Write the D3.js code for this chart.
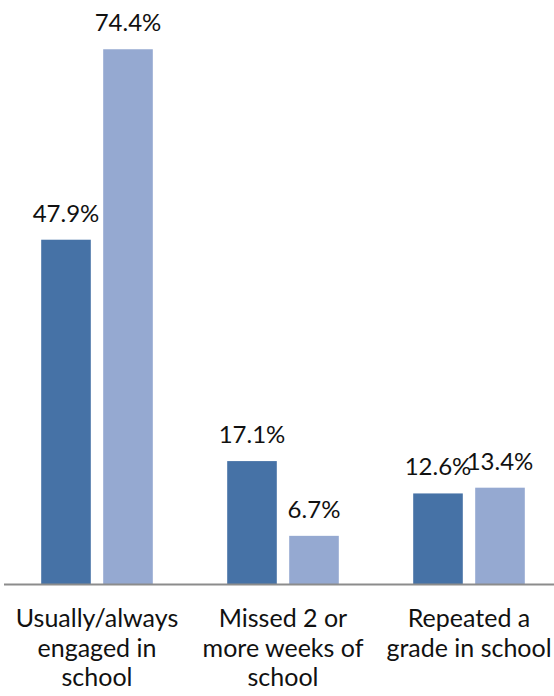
<!DOCTYPE html>
<html>
<head>
<meta charset="utf-8">
<script src="https://cdn.jsdelivr.net/npm/d3@7"></script>
<style>
  html, body { margin: 0; padding: 0; background: #fff; }
  svg text { font-family: Lato, "Noto Sans", sans-serif; fill: #111; }
</style>
</head>
<body>
<svg id="chart" width="554" height="696"></svg>
<script>
// Category labels (multi-line) and the two series shown per category
const categories = ["Usually/always engaged in school", "Missed 2 or more weeks of school", "Repeated a grade in school"];
const categoryLines = [
  ["Usually/always", "engaged in", "school"],
  ["Missed 2 or", "more weeks of", "school"],
  ["Repeated a", "grade in school"]
];
const seriesNames = ["Group A", "Group B"];
const seriesA = [47.9, 17.1, 12.6];
const seriesB = [74.4, 6.7, 13.4];
const seriesColors = ["#4672a6", "#95a9d1"];

const svg = d3.select("#chart");
const baseline = 584;

const y = d3.scaleLinear().domain([0, 80]).range([baseline, 9]);

const x0 = d3.scaleBand()
  .domain(categories)
  .range([4, 562])
  .paddingInner(0.4)
  .paddingOuter(0.2);

const x1 = d3.scaleBand()
  .domain(seriesNames)
  .range([0, x0.bandwidth()])
  .paddingInner(0.2);

const rows = categories.map((c, i) => ({
  category: c,
  values: [
    { series: seriesNames[0], value: seriesA[i] },
    { series: seriesNames[1], value: seriesB[i] }
  ]
}));

const groups = svg.selectAll("g.group")
  .data(rows)
  .join("g")
  .attr("class", "group")
  .attr("transform", d => `translate(${x0(d.category)},0)`);

groups.selectAll("rect")
  .data(d => d.values)
  .join("rect")
  .attr("x", d => x1(d.series))
  .attr("width", x1.bandwidth())
  .attr("y", d => y(d.value))
  .attr("height", d => baseline - y(d.value))
  .attr("fill", (d, i) => seriesColors[i]);

groups.selectAll("text.value")
  .data(d => d.values)
  .join("text")
  .attr("class", "value")
  .attr("x", d => x1(d.series) + x1.bandwidth() / 2)
  .attr("y", d => y(d.value) - 18)
  .attr("text-anchor", "middle")
  .attr("font-size", 24)
  .text(d => d.value.toFixed(1) + "%");

// Horizontal category axis line
svg.append("line")
  .attr("x1", 4).attr("x2", 554)
  .attr("y1", baseline + 0.5).attr("y2", baseline + 0.5)
  .attr("stroke", "#8c8c8c")
  .attr("stroke-width", 2);

// Wrapped category labels under each group
const labels = svg.selectAll("text.cat")
  .data(categories)
  .join("text")
  .attr("class", "cat")
  .attr("text-anchor", "middle")
  .attr("font-size", 25)
  .attr("x", d => x0(d) + x0.bandwidth() / 2)
  .attr("y", 627);

labels.each(function(d, i) {
  const t = d3.select(this);
  categoryLines[i].forEach((line, j) => {
    t.append("tspan")
      .attr("x", x0(d) + x0.bandwidth() / 2)
      .attr("y", 627 + j * 29.5)
      .text(line);
  });
});
</script>
</body>
</html>
